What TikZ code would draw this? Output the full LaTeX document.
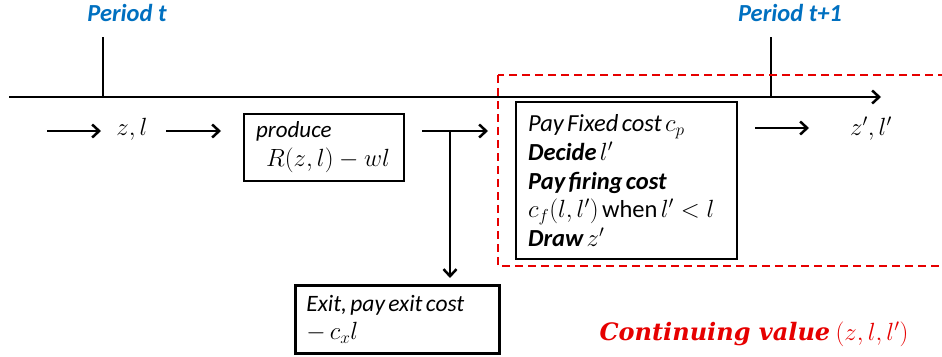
\documentclass[tikz,border=0pt]{standalone}
\usepackage{fontspec}
\setmainfont{Carlito}
\newfontfamily\contfont{DejaVu Serif}
\usetikzlibrary{arrows.meta}
\definecolor{perblue}{RGB}{0,112,192}
\definecolor{contred}{RGB}{230,0,0}
\tikzset{
  ln/.style={line width=2.5pt},
  arr/.style={line width=2.5pt,-{Straight Barb[length=7pt,width=13pt,line width=2.5pt]}},
  box/.style={draw,line width=2.2pt,inner ysep=0pt,align=left,anchor=north west},
  per/.style={text=perblue,font=\fontsize{24.5}{26}\selectfont\bfseries\itshape},
  mth/.style={font=\fontsize{24}{26}\selectfont},
}
\begin{document}
\begin{tikzpicture}[x=1pt,y=-1pt]
\useasboundingbox (0,0) rectangle (942,356);
% timeline
\coordinate (t0) at (9,97);
\coordinate (t1) at (881,97);
\draw[arr] (t0) -- (t1);
\coordinate (k1a) at (103,37); \coordinate (k1b) at (103,97);
\coordinate (k2a) at (771,37); \coordinate (k2b) at (771,97);
\draw[ln] (k1a) -- (k1b);
\draw[ln] (k2a) -- (k2b);
\node[per] (p1) at (127,13) {Period t};
\node[per] (p2) at (790,13) {Period t+1};
% red dashed region
\draw[contred,line width=1.6pt,dash pattern=on 8pt off 5pt] (498,75) rectangle (960,266);
% first arrow and z,l
\coordinate (a0) at (47,131);
\coordinate (a1) at (101,131);
\draw[arr] (a0) -- (a1);
\node[mth] (zl) at (132,129) {$z,l$};
\coordinate (b0) at (166,131);
\coordinate (b1) at (221,131);
\draw[arr] (b0) -- (b1);
% produce box
\node[box,minimum width=160pt,minimum height=67pt,text width=136pt,inner xsep=12pt] (prod) at (243,113)
 {\fontsize{23}{29}\selectfont\itshape produce\\\hspace*{10pt}$R(z,l)-wl$\par};
% arrow to decision and exit
\coordinate (c0) at (422,131);
\coordinate (c1) at (488,131);
\draw[arr] (c0) -- (c1);
\coordinate (v0) at (450,131);
\coordinate (v1) at (450,278);
\draw[arr] (v0) -- (v1);
% exit box
\node[box,line width=2.6pt,minimum width=204pt,minimum height=68pt,text width=182pt,inner xsep=11pt] (exit) at (294,284)
 {\fontsize{23.5}{28}\selectfont\itshape Exit, pay exit cost\\\upshape$-\,c_x l$\par};
% decision box
\node[box,minimum width=221pt,minimum height=157pt,text width=197pt,inner xsep=12pt] (dec) at (515,101)
 {\fontsize{24.5}{28.6}\selectfont
  \itshape Pay Fixed cost $c_p$\\
  \bfseries\itshape Decide \mdseries$l'$\\
  \bfseries\itshape Pay firing cost\\
  \mdseries\upshape$c_f(l,l')$ when $l'<l$\\
  \bfseries\itshape Draw \mdseries$z'$\par};
\coordinate (d0) at (755,128);
\coordinate (d1) at (809,128);
\draw[arr] (d0) -- (d1);
\node[mth] (zl2) at (871,129) {$z',l'$};
% continuing value
\node[text=contred,font=\fontsize{24}{26}\selectfont,anchor=west] (cont) at (596,334) {{\contfont\bfseries\itshape Continuing value} $(z,l,l')$};
\end{tikzpicture}
\end{document}
